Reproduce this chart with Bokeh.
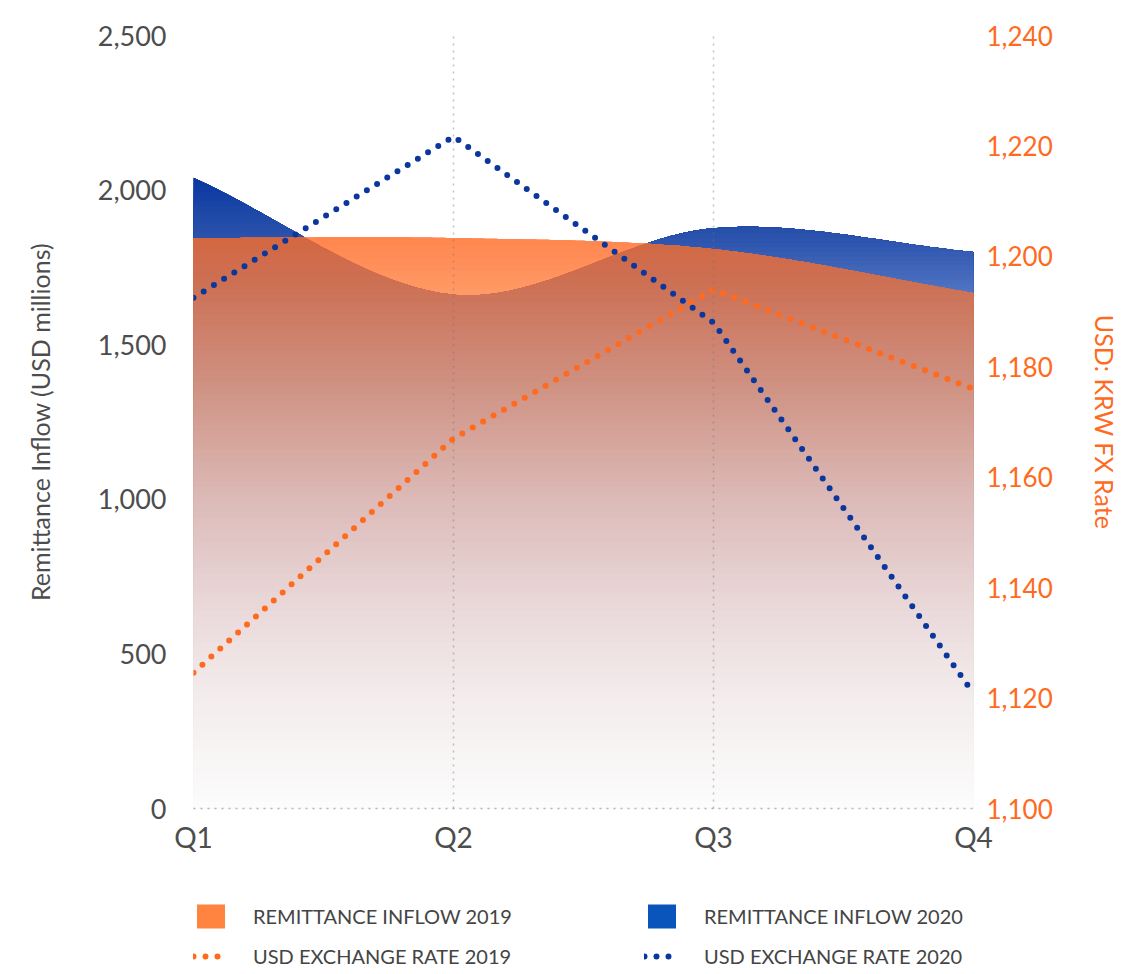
import numpy as np
from bokeh.plotting import figure
from bokeh.models import (Range1d, LinearAxis, FixedTicker, Legend, LegendItem,
                          NumeralTickFormatter)
from bokeh.layouts import column
from bokeh.embed import file_html
from bokeh.resources import INLINE

# ---------------- data ----------------
quarters = ["Q1", "Q2", "Q3", "Q4"]
remit_2019 = [1845, 1845, 1809, 1667]
remit_2020 = [2040, 1662, 1877, 1800]
fx_2019 = [1124.6, 1167.0, 1194.0, 1176.0]
fx_2020 = [1192.5, 1221.7, 1188.0, 1120.8]
left_ticks = [0, 500, 1000, 1500, 2000, 2500]
right_ticks = [1100, 1120, 1140, 1160, 1180, 1200, 1220, 1240]

GREY = "#4d4d4d"
ORANGE = "#ff6a1e"
BLUE = "#0a369e"
FONT = "Lato"


def spline(vals, n=80):
    """Catmull-Rom rendering of a series through its points."""
    v = np.asarray(vals, float)
    k = len(v)
    m = np.empty(k)
    m[0] = v[1] - v[0]
    m[-1] = v[-1] - v[-2]
    m[1:-1] = (v[2:] - v[:-2]) / 2
    xs, ys = [], []
    for i in range(k - 1):
        t = np.linspace(0, 1, n, endpoint=(i == k - 2))
        h00 = 2 * t**3 - 3 * t**2 + 1
        h10 = t**3 - 2 * t**2 + t
        h01 = -2 * t**3 + 3 * t**2
        h11 = t**3 - t**2
        xs.append(i + t)
        ys.append(h00 * v[i] + h10 * m[i] + h01 * v[i + 1] + h11 * m[i + 1])
    return np.concatenate(xs), np.concatenate(ys)


def color_at(stops, v):
    vals = [s[0] for s in stops]
    rgb = [int(round(np.interp(v, vals, [s[1][c] for s in stops]))) for c in range(3)]
    return "#%02x%02x%02x" % tuple(rgb)


def gradient_area(p, xs, top, stops, lo, hi, nb):
    levels = np.linspace(lo, hi, nb + 1)
    for k in reversed(range(nb)):
        upper = levels[k + 1]
        mid = (levels[k] + levels[k + 1]) / 2
        p.varea(x=xs, y1=np.zeros_like(top), y2=np.minimum(top, upper),
                fill_color=color_at(stops, mid), fill_alpha=1.0)


xi = list(range(len(quarters)))

p = figure(width=1123, height=866, x_range=Range1d(0, 3), y_range=Range1d(0, 2500),
           toolbar_location=None, output_backend="svg",
           min_border_left=193, min_border_right=150, min_border_top=35,
           min_border_bottom=58, background_fill_color="white",
           border_fill_color="white", outline_line_color=None)
p.extra_y_ranges = {"fx": Range1d(1100, 1240)}

xs, top19 = spline(remit_2019)
_, top20 = spline(remit_2020)
overlap = np.minimum(top19, top20)

blue_stops = [(1500, (110, 140, 210)), (1650, (85, 120, 198)), (1850, (42, 82, 172)),
              (2050, (8, 55, 160))]
orange_stops = [(1500, (255, 175, 130)), (1650, (255, 155, 104)), (1850, (255, 134, 78))]
overlap_stops = [(0, (252, 252, 252)), (350, (243, 237, 237)), (670, (233, 215, 216)),
                 (1000, (220, 186, 184)), (1400, (206, 142, 126)), (1700, (205, 112, 84)),
                 (1900, (214, 100, 58))]

gradient_area(p, xs, top20, blue_stops, 1500, 2100, 40)
gradient_area(p, xs, top19, orange_stops, 1500, 1900, 20)
gradient_area(p, xs, overlap, overlap_stops, 0, 1900, 95)

p.line(x=xi, y=fx_2019, y_range_name="fx", line_color=ORANGE, line_width=6,
       line_dash="0 12", line_cap="round")
p.line(x=xi, y=fx_2020, y_range_name="fx", line_color=BLUE, line_width=6,
       line_dash="0 12", line_cap="round")

# grid (drawn over the areas, faintly)
p.ygrid.visible = False
p.xgrid.ticker = FixedTicker(ticks=xi)
p.xgrid.grid_line_color = "#777777"
p.xgrid.grid_line_alpha = 0.45
p.xgrid.grid_line_dash = "2 5"
p.xgrid.grid_line_width = 1.5
p.xgrid.level = "overlay"

# x axis
xa = p.xaxis[0]
xa.ticker = FixedTicker(ticks=xi)
xa.major_label_overrides = {i: q for i, q in zip(xi, quarters)}
xa.axis_line_color = "#b5b5b5"
xa.axis_line_dash = "2 5"
xa.axis_line_width = 1.5
xa.major_tick_line_color = None
xa.minor_tick_line_color = None
xa.major_label_text_font = FONT
xa.major_label_text_font_size = "28px"
xa.major_label_text_color = GREY
xa.major_label_standoff = 5

# left axis
ya = p.yaxis[0]
ya.ticker = FixedTicker(ticks=left_ticks)
ya.formatter = NumeralTickFormatter(format="0,0")
ya.axis_line_color = None
ya.major_tick_line_color = None
ya.minor_tick_line_color = None
ya.major_label_text_font = FONT
ya.major_label_text_font_size = "27px"
ya.major_label_text_color = GREY
ya.major_label_standoff = 21
ya.axis_label = "Remittance Inflow (USD millions)"
ya.axis_label_text_font = FONT
ya.axis_label_text_font_size = "25px"
ya.axis_label_text_font_style = "normal"
ya.axis_label_text_color = GREY
ya.axis_label_standoff = 40

# right axis
ra = LinearAxis(y_range_name="fx", ticker=FixedTicker(ticks=right_ticks),
                formatter=NumeralTickFormatter(format="0,0"))
ra.axis_line_color = None
ra.major_tick_line_color = None
ra.minor_tick_line_color = None
ra.major_label_text_font = FONT
ra.major_label_text_font_size = "26px"
ra.major_label_text_color = ORANGE
ra.major_label_standoff = 7
ra.axis_label = "USD: KRW FX Rate"
ra.axis_label_text_font = FONT
ra.axis_label_text_font_size = "25px"
ra.axis_label_text_font_style = "normal"
ra.axis_label_text_color = ORANGE
ra.axis_label_standoff = 34
p.add_layout(ra, "right")

# ---------------- legend figure ----------------
lf = figure(width=1123, height=102, x_range=Range1d(0, 1), y_range=Range1d(0, 1),
            toolbar_location=None, output_backend="svg", min_border=0,
            x_axis_location=None, y_axis_location=None, outline_line_color=None)
lf.grid.visible = False
g19 = lf.varea(x=[10, 11], y1=[10, 10], y2=[12, 12], fill_color="#ff8440")
g20 = lf.varea(x=[10, 11], y1=[10, 10], y2=[12, 12], fill_color="#0a55bb")
l19 = lf.line(x=[10, 11], y=[10, 10], line_color=ORANGE, line_width=6,
              line_dash="0 12", line_cap="round")
l20 = lf.line(x=[10, 11], y=[10, 10], line_color=BLUE, line_width=6,
              line_dash="0 12", line_cap="round")

legend = Legend(items=[
    LegendItem(label="REMITTANCE INFLOW 2019", renderers=[g19]),
    LegendItem(label="USD EXCHANGE RATE 2019", renderers=[l19]),
    LegendItem(label="REMITTANCE INFLOW 2020", renderers=[g20]),
    LegendItem(label="USD EXCHANGE RATE 2020", renderers=[l20]),
], ncols=2, location=(0, -3), glyph_width=35, glyph_height=30,
    label_standoff=25, label_width=381, spacing=10, padding=0, margin=0,
    border_line_alpha=0, background_fill_alpha=0,
    label_text_font=FONT, label_text_font_size="20px", label_text_color="#444444")
lf.add_layout(legend)

layout = column(p, lf, spacing=0)
open("out.html", "w").write(file_html(layout, INLINE))
